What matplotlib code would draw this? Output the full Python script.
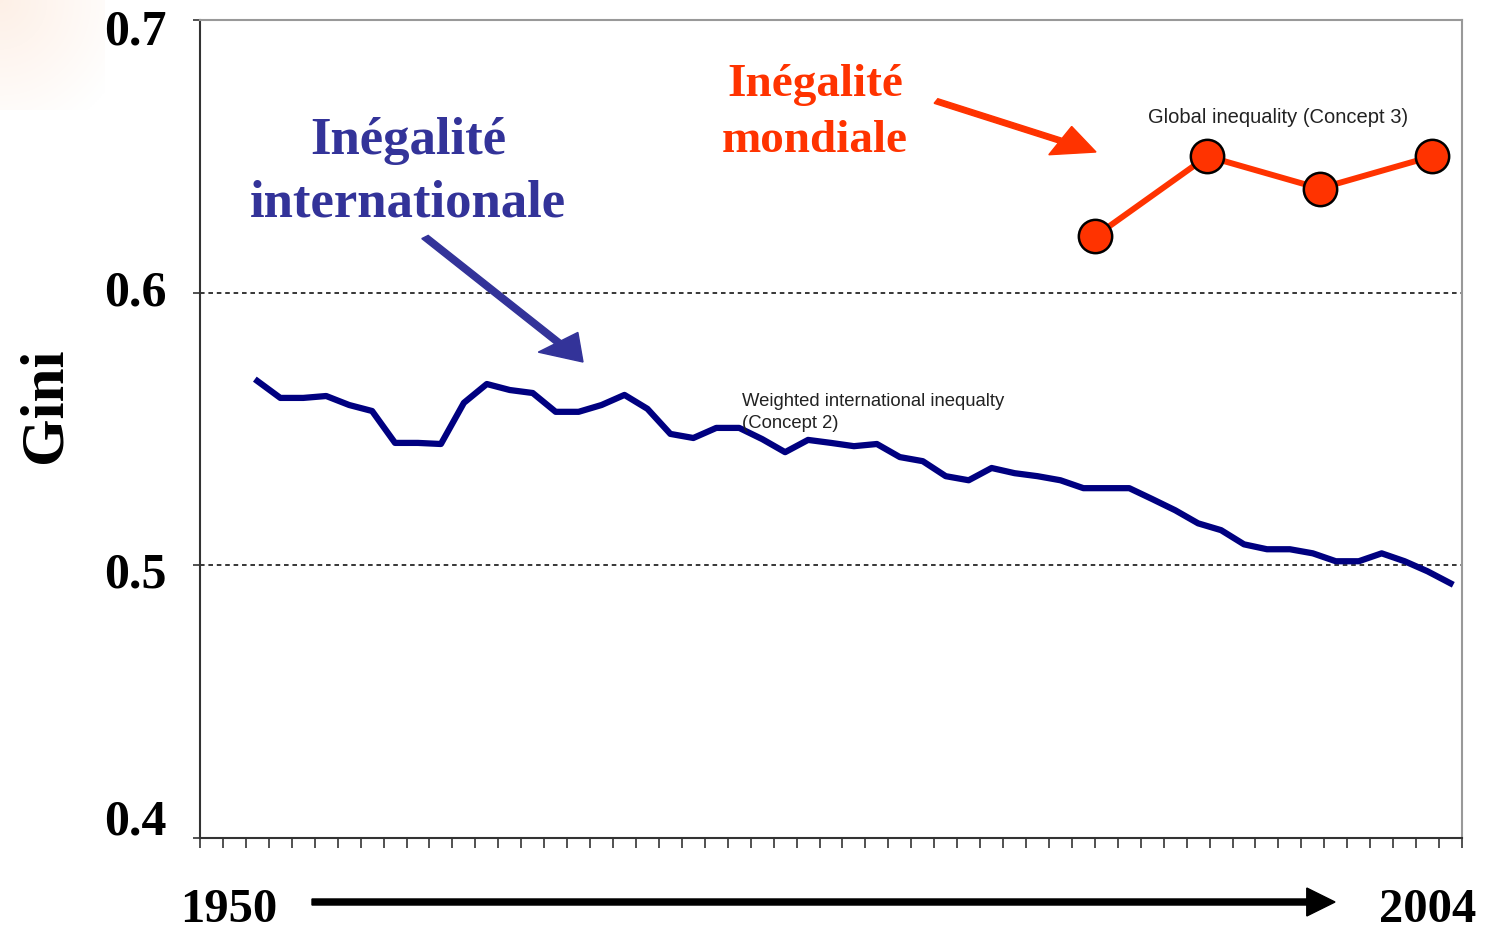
import matplotlib.pyplot as plt
import matplotlib.transforms as mtransforms
from matplotlib.patches import FancyArrow
import numpy as np

# weighted international inequality (concept 2), one value per year
years = np.arange(1952, 2005)
gini_intl = [0.5676, 0.5614, 0.5614, 0.5621, 0.5588, 0.5566, 0.5449, 0.5449, 0.5445,
             0.5596, 0.5665, 0.5643, 0.5632, 0.5563, 0.5563, 0.5588, 0.5625, 0.5574,
             0.5482, 0.5467, 0.5504, 0.5504, 0.5463, 0.5415, 0.5460, 0.5449, 0.5437,
             0.5445, 0.5397, 0.5382, 0.5327, 0.5312, 0.5357, 0.5338, 0.5327, 0.5312,
             0.5283, 0.5283, 0.5283, 0.5243, 0.5202, 0.5154, 0.5129, 0.5077, 0.5059,
             0.5059, 0.5044, 0.5015, 0.5015, 0.5044, 0.5015, 0.4978, 0.4934]

# global inequality (concept 3)
global_x = [1989.0, 1993.9, 1998.8, 2003.7]
gini_global = [0.6206, 0.6500, 0.6382, 0.6500]

yticks = [0.4, 0.5, 0.6, 0.7]
ytick_labels = ['0.4', '0.5', '0.6', '0.7']

serif = 'Liberation Serif'
blue = '#333399'
red = '#FF3300'

fig = plt.figure(figsize=(14.85, 9.32), dpi=100)

# faint peach glow in the top-left corner of the slide
bg = fig.add_axes([0, 1-110/932, 105/1485, 110/932], zorder=-5)
gx, gy = np.meshgrid(np.linspace(0, 1, 60), np.linspace(0, 1, 60))
glow = np.clip(1 - np.sqrt(gx**2 + gy**2) / 1.3, 0, 1) * 0.6
peach = np.array([0.99, 0.90, 0.84])
img = 1 - glow[..., None] * (1 - peach)
bg.imshow(img, aspect='auto', interpolation='bilinear')
bg.axis('off')

ax = fig.add_axes([200/1485, 1-838/932, 1262/1485, 818/932])

ax.plot(years + 0.5, gini_intl, color='#000080', linewidth=4.5, solid_joinstyle='round')
ax.plot(global_x, gini_global, color=red, linewidth=4.3, marker='o', markersize=24,
        markerfacecolor=red, markeredgecolor='black', markeredgewidth=1.8, zorder=4)

ax.set_xlim(1950, 2005)
ax.set_ylim(0.4, 0.7)
ax.set_xticks(np.arange(1950, 2006))
ax.set_xticklabels([])
ax.set_yticks(yticks)
ax.set_yticklabels(ytick_labels, fontsize=36, fontweight='bold', family=serif)
ax.tick_params(axis='x', direction='out', length=7, width=1.2, color='#333333')
ax.tick_params(axis='y', direction='out', length=5, width=1.2, color='#333333', pad=19)

# nudge the tick labels like in the original slide
shifts = [21, -5, 5, -7]
for lab, dy in zip(ax.get_yticklabels(), shifts):
    lab.set_transform(lab.get_transform() + mtransforms.ScaledTranslation(0, dy/100, fig.dpi_scale_trans))

for v in [0.5, 0.6]:
    ax.axhline(v, color='black', linewidth=1.1, linestyle=(0, (3, 2.5)), zorder=1)

ax.spines['left'].set_color('#333333')
ax.spines['bottom'].set_color('#333333')
ax.spines['top'].set_color('#999999')
ax.spines['right'].set_color('#999999')
for s in ax.spines.values():
    s.set_linewidth(1.5)

ax.text(1973.6, 0.5632, 'Weighted international inequalty\n(Concept 2)', fontsize=13.3,
        family='Liberation Sans', color='#222222', va='top', ha='left', linespacing=1.35)
ax.text(1991.3, 0.6643, 'Global inequality (Concept 3)', fontsize=14.5,
        family='Liberation Sans', color='#222222', va='center', ha='left')

# big annotations
fig.text(408/1485, 1-172/932, 'Inégalité\ninternationale', fontsize=38, fontweight='bold',
         family=serif, color=blue, ha='center', va='center', linespacing=1.38)
fig.text(815/1485, 1-113/932, 'Inégalité\nmondiale', fontsize=34, fontweight='bold',
         family=serif, color=red, ha='center', va='center', linespacing=1.42)

fig.patches.append(FancyArrow(
    425/1485, 1-237/932, 158/1485, -125/932, width=0.0055, head_width=0.034,
    head_length=0.027, length_includes_head=True, color=blue, transform=fig.transFigure))
fig.patches.append(FancyArrow(
    936/1485, 1-101/932, 160/1485, -51/932, width=0.0055, head_width=0.034,
    head_length=0.027, length_includes_head=True, color=red, transform=fig.transFigure))

fig.text(45/1485, 1-405/932, 'Gini', fontsize=44, fontweight='bold', family=serif,
         rotation=90, ha='center', va='center')

# time arrow
fig.text(229/1485, 1-910/932, '1950', fontsize=35, fontweight='bold', family=serif,
         ha='center', va='center')
fig.text(1428/1485, 1-910/932, '2004', fontsize=35, fontweight='bold', family=serif,
         ha='center', va='center')
fig.patches.append(FancyArrow(
    312/1485, 1-902/932, 1023/1485, 0, width=0.0065, head_width=0.03,
    head_length=0.019, length_includes_head=True, color='black', transform=fig.transFigure))

plt.savefig('out.png', dpi=100)
